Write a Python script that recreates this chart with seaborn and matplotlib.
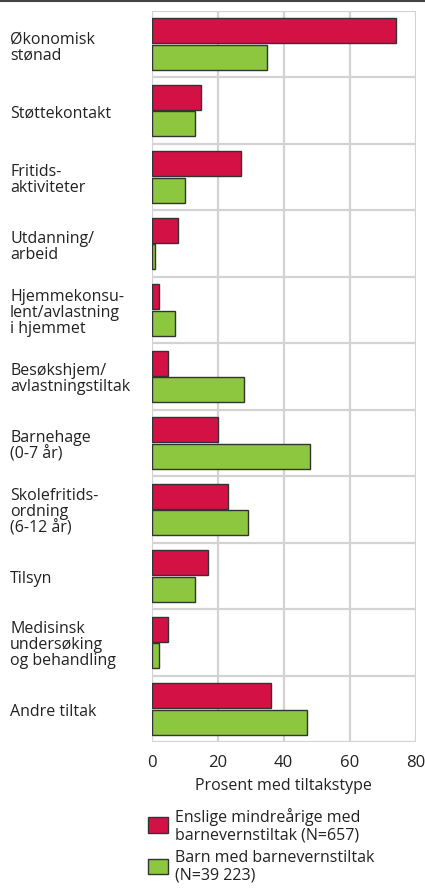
import matplotlib
matplotlib.use("Agg")
import matplotlib.pyplot as plt
import numpy as np
import pandas as pd
import seaborn as sns
from matplotlib.lines import Line2D
from matplotlib.patches import Patch

categories = [
    "Økonomisk\nstønad",
    "Støttekontakt",
    "Fritids-\naktiviteter",
    "Utdanning/\narbeid",
    "Hjemmekonsu-\nlent/avlastning\ni hjemmet",
    "Besøkshjem/\navlastningstiltak",
    "Barnehage\n(0-7 år)",
    "Skolefritids-\nordning\n(6-12 år)",
    "Tilsyn",
    "Medisinsk\nundersøking\nog behandling",
    "Andre tiltak",
]
enslige = [74, 15, 27, 8, 2, 5, 20, 23, 17, 5, 36]
barn = [35, 13, 10, 1, 7, 28, 48, 29, 13, 2, 47]
series = ["Enslige mindreårige med\nbarnevernstiltak (N=657)",
          "Barn med barnevernstiltak\n(N=39 223)"]
colors = ["#D41145", "#8DC63F"]

df = pd.DataFrame({
    "kategori": categories * 2,
    "prosent": enslige + barn,
    "gruppe": [series[0]] * len(categories) + [series[1]] * len(categories),
})

sns.set_style("white")
plt.rcParams["font.family"] = ["Open Sans", "DejaVu Sans"]
fs = 11.5

fig = plt.figure(figsize=(4.25, 8.95), dpi=100)
ax = fig.add_axes([152 / 425, 1 - 743 / 895, 263.5 / 425, 731 / 895])

sns.barplot(data=df, y="kategori", x="prosent", hue="gruppe", orient="h",
            palette=colors, saturation=1, width=0.8, gap=0.06,
            edgecolor="#333333", linewidth=1.0, legend=False, ax=ax)

ax.set_xlim(0, 80)
ax.set_ylim(len(categories) - 0.5, -0.5)
ax.set_xticks([0, 20, 40, 60, 80])
ax.set_yticks(np.arange(len(categories)))
ax.set_yticklabels(categories, fontsize=fs, ha="left", color="#222222",
                   linespacing=1.0)
ax.set_yticks(np.arange(len(categories) + 1) - 0.5, minor=True)
ax.tick_params(axis="y", which="both", length=0, pad=142 * 72 / 100)
ax.tick_params(axis="x", length=0, pad=9, labelsize=fs + 0.5, labelcolor="#222222")
ax.grid(axis="x", which="major", color="#d2d3d5", lw=1.6)
ax.grid(axis="y", which="minor", color="#d2d3d5", lw=1.6)
ax.set_axisbelow(True)
for s in ax.spines.values():
    s.set_visible(False)
ax.set_ylabel("")
ax.set_xlabel("Prosent med tiltakstype", fontsize=fs, color="#222222", labelpad=5)

fig.add_artist(Line2D([0, 1], [1 - 2 / 895, 1 - 2 / 895], color="#444444", lw=1.5))

handles = [Patch(facecolor=c, edgecolor="#333333", lw=1.0) for c in colors]
leg = fig.legend(handles, series, loc="upper left",
                 bbox_to_anchor=(148 / 425, 1 - 808 / 895), frameon=False,
                 fontsize=fs, handlelength=1.25, handleheight=1.15,
                 handletextpad=0.45, labelspacing=0.45, borderaxespad=0,
                 borderpad=0, labelcolor="#222222")
for t in leg.get_texts():
    t.set_linespacing(1.1)

fig.savefig("out.png", dpi=100)
